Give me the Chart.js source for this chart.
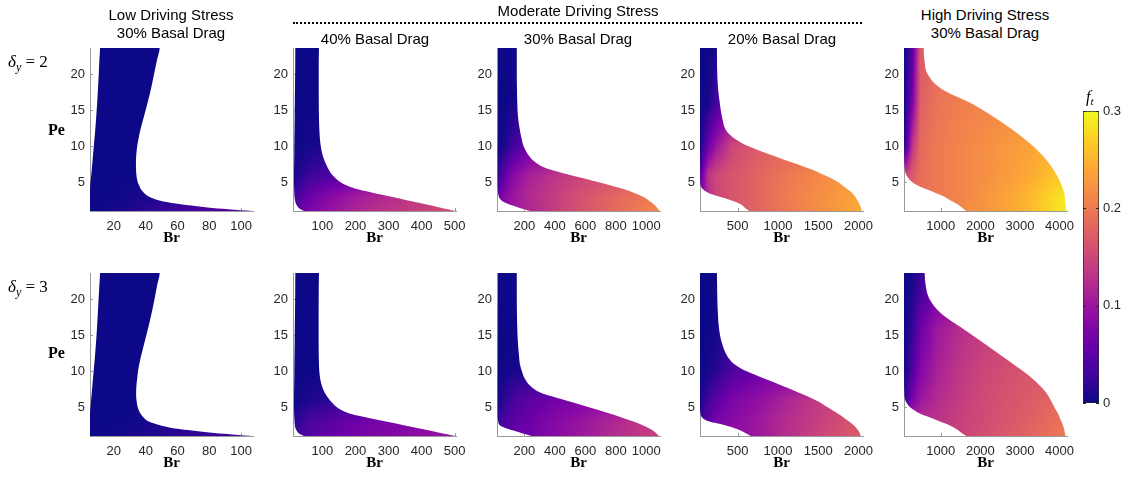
<!DOCTYPE html>
<html>
<head>
<meta charset="utf-8">
<script src="https://cdn.jsdelivr.net/npm/chart.js@4.4.1/dist/chart.umd.min.js"></script>
<style>
  body { margin: 0; background: #fff; }
  #fig { position: relative; width: 1129px; height: 477px; overflow: hidden; font-family: "Liberation Sans", Arial, sans-serif; }
  #fig canvas { position: absolute; }
  .ttl { position: absolute; z-index: 2; font-size: 15px; line-height: 18px; color: #000; text-align: center; white-space: nowrap; transform: translateX(-50%); }
  .math { position: absolute; z-index: 2; font-family: "Liberation Serif", serif; color: #000; white-space: nowrap; }
</style>
</head>
<body>
<div id="fig">
  <div class="ttl" style="left:171px; top:6px">Low Driving Stress<br>30% Basal Drag</div>
  <div class="ttl" style="left:578px; top:2px">Moderate Driving Stress</div>
  <div style="position:absolute; left:293px; top:22px; width:569px; border-top:2px dotted #000"></div>
  <div class="ttl" style="left:375px; top:30px">40% Basal Drag</div>
  <div class="ttl" style="left:578px; top:30px">30% Basal Drag</div>
  <div class="ttl" style="left:782px; top:30px">20% Basal Drag</div>
  <div class="ttl" style="left:985px; top:6px">High Driving Stress<br>30% Basal Drag</div>

  <div class="math" style="left:8px; top:52px; font-size:17px; line-height:20px"><i>δ</i><span style="font-size:12px; vertical-align:-4px"><i>y</i></span> = 2</div>
  <div class="math" style="left:8px; top:277px; font-size:17px; line-height:20px"><i>δ</i><span style="font-size:12px; vertical-align:-4px"><i>y</i></span> = 3</div>
  <div class="math" style="left:48px; top:121px; font-size:16px; line-height:18px; font-weight:bold">Pe</div>
  <div class="math" style="left:48px; top:344px; font-size:16px; line-height:18px; font-weight:bold">Pe</div>
  <div class="math" style="left:1086px; top:88px; font-size:16px; line-height:18px"><i>f</i><span style="font-size:11px; vertical-align:-3px"><i>t</i></span></div>
</div>
<script>
// Pe samples shared by every boundary curve
const pe = [1, 1.25, 1.5, 2, 2.5, 3, 3.5, 4, 4.5, 5, 6, 7, 8, 9, 10, 11, 12, 14, 16, 18, 20, 22, 23.6];
const peLim = [1, 23.6];
const peTicks = [5, 10, 15, 20];

// Br range and ticks per column
const brLim = [[5, 107.5], [11, 504], [20, 1090], [33, 2055], [70, 4190]];
const brTicks = [
  [20, 40, 60, 80, 100],
  [100, 200, 300, 400, 500],
  [200, 400, 600, 800, 1000],
  [500, 1000, 1500, 2000],
  [1000, 2000, 3000, 4000]
];

// left / right edge of each region (Br at each Pe), delta_y = 2 and 3
const lowLeftD2 = [5, 5, 5, 5, 5, 5, 5, 5, 5.1, 5.3, 5.8, 6.2, 6.6, 7.0, 7.4, 7.8, 8.2, 8.9, 9.5, 10, 10.5, 10.9, 11.3];
const lowRightD2 = [107, 92, 79, 60, 48, 42, 39, 37, 36, 35, 34.2, 33.9, 33.9, 34.2, 34.7, 35.5, 36.4, 38.8, 41.2, 43.4, 45.3, 47.2, 48.8];
const lowLeftD3 = [5, 5, 5, 5, 5, 5, 5, 5, 5.1, 5.3, 5.7, 6.1, 6.5, 6.9, 7.3, 7.7, 8.1, 8.8, 9.4, 9.9, 10.4, 10.9, 11.3];
const lowRightD3 = [107, 93, 80, 60, 49, 42, 39, 37, 35.8, 35, 34.2, 34, 34.2, 34.7, 35.2, 36, 37, 39.3, 41.6, 43.7, 45.6, 47.3, 48.8];

const mid40LeftD2 = [45, 34, 27, 20, 17, 15.5, 15, 14.5, 14.2, 14, 14, 14.2, 14.5, 14.8, 15, 15.2, 15.5, 16, 16.5, 17, 17.5, 17.8, 18];
const mid40RightD2 = [503, 480, 455, 405, 355, 305, 255, 207, 176, 155, 130, 116, 106, 99, 95, 92.5, 91, 89.5, 89, 88.8, 88.8, 89, 89.5];
const mid40LeftD3 = [45, 33, 26, 19, 16.5, 15.5, 15, 14.5, 14.2, 14, 14, 14.2, 14.5, 14.8, 15, 15.2, 15.5, 16, 16.5, 17, 17.5, 17.8, 18];
const mid40RightD3 = [503, 478, 451, 398, 346, 292, 240, 190, 162, 144, 122, 107, 98, 93, 90.5, 89.5, 89, 88.5, 88.5, 88.5, 88.7, 89, 89.5];

const mid30LeftD2 = [238, 200, 160, 90, 48, 32, 27, 25, 24, 24, 24, 24, 24, 24, 24.5, 24.5, 25, 25, 25.5, 25.5, 26, 26, 26];
const mid30RightD2 = [1087, 1080, 1070, 1045, 1014, 975, 921, 855, 774, 689, 499, 335, 258, 218, 194, 182, 172, 158, 153, 151, 150, 150, 150];
const mid30LeftD3 = [248, 210, 170, 90, 38, 28, 25, 24, 24, 24, 24, 24, 24, 24, 24.5, 24.5, 25, 25, 25.5, 25.5, 26, 26, 26];
const mid30RightD3 = [1083, 1072, 1060, 1024, 976, 915, 847, 775, 701, 624, 462, 307, 236, 201, 183, 170, 165, 157, 153, 151, 150, 150, 150];

const mid20LeftD2 = [645, 615, 586, 528, 416, 268, 139, 70, 42, 35, 33, 33, 33, 33, 33, 33, 33, 33, 33, 33, 33, 33, 33];
const mid20RightD2 = [2040, 2035, 2028, 2008, 1985, 1955, 1920, 1863, 1807, 1751, 1573, 1361, 1103, 856, 628, 470, 368, 307, 278, 257, 247, 244, 243];
const mid20LeftD3 = [665, 625, 585, 485, 345, 150, 65, 40, 34, 33, 33, 33, 33, 33, 33, 33, 33, 33, 33, 33, 33, 33, 33];
const mid20RightD3 = [2027, 2020, 2012, 1979, 1941, 1881, 1822, 1756, 1687, 1617, 1464, 1260, 1045, 822, 605, 456, 376, 302, 268, 255, 248, 245, 243];

const highLeftD2 = [1645, 1590, 1530, 1400, 1235, 1075, 870, 640, 430, 280, 130, 85, 75, 72, 72, 71, 71, 70, 70, 70, 70, 70, 70];
const highRightD2 = [4170, 4168, 4165, 4155, 4145, 4135, 4120, 4090, 4057, 4020, 3930, 3815, 3680, 3515, 3330, 3115, 2880, 2350, 1740, 1000, 665, 585, 567];
const highLeftD3 = [1645, 1580, 1510, 1380, 1220, 980, 760, 510, 350, 225, 100, 78, 72, 72, 71, 71, 70, 70, 70, 70, 70, 70, 70];
const highRightD3 = [4153, 4143, 4134, 4115, 4087, 4048, 4009, 3971, 3922, 3870, 3775, 3665, 3500, 3305, 3075, 2825, 2570, 2054, 1526, 1007, 713, 615, 593];

// f_t: rows at shadePe, columns at shadeBr of that column
const shadePe = [1, 3, 6, 10, 16, 23.6];
const shadeBr = [
  [5, 10, 15, 25, 41, 56, 82, 107],
  [11, 36, 60, 110, 183, 257, 380, 503],
  [20, 75, 127, 234, 395, 555, 820, 1090],
  [33, 134, 235, 437, 740, 1044, 1550, 2055],
  [70, 276, 482, 894, 1512, 2130, 3160, 4190]
];
const lowShadeD2 = [
  [0, 0, 0.003, 0.008, 0.018, 0.028, 0.04, 0.05],
  [0, 0, 0, 0.002, 0.008, 0.015, 0.02, 0.02],
  [0, 0, 0, 0, 0, 0, 0, 0],
  [0, 0, 0, 0, 0, 0, 0, 0],
  [0, 0, 0, 0, 0, 0, 0, 0],
  [0, 0, 0, 0, 0, 0, 0, 0]
];
const lowShadeD3 = [
  [0, 0, 0.002, 0.005, 0.01, 0.018, 0.026, 0.032],
  [0, 0, 0, 0, 0.004, 0.008, 0.01, 0.01],
  [0, 0, 0, 0, 0, 0, 0, 0],
  [0, 0, 0, 0, 0, 0, 0, 0],
  [0, 0, 0, 0, 0, 0, 0, 0],
  [0, 0, 0, 0, 0, 0, 0, 0]
];
const mid40ShadeD2 = [
  [0.035, 0.06, 0.075, 0.09, 0.11, 0.125, 0.14, 0.16],
  [0.02, 0.045, 0.06, 0.08, 0.1, 0.115, 0.135, 0.15],
  [0.005, 0.015, 0.025, 0.035, 0.05, 0.06, 0.07, 0.08],
  [0, 0.002, 0.005, 0.01, 0.015, 0.015, 0.015, 0.015],
  [0, 0, 0, 0, 0, 0, 0, 0],
  [0, 0, 0, 0, 0, 0, 0, 0]
];
const mid40ShadeD3 = [
  [0.02, 0.035, 0.045, 0.055, 0.065, 0.075, 0.088, 0.1],
  [0.01, 0.025, 0.035, 0.045, 0.058, 0.068, 0.08, 0.09],
  [0, 0.005, 0.01, 0.015, 0.02, 0.025, 0.03, 0.035],
  [0, 0, 0, 0, 0, 0, 0, 0],
  [0, 0, 0, 0, 0, 0, 0, 0],
  [0, 0, 0, 0, 0, 0, 0, 0]
];
const mid30ShadeD2 = [
  [0.05, 0.08, 0.1, 0.115, 0.14, 0.16, 0.19, 0.215],
  [0.05, 0.085, 0.1, 0.12, 0.14, 0.16, 0.185, 0.205],
  [0.015, 0.055, 0.085, 0.11, 0.13, 0.145, 0.16, 0.175],
  [0, 0.01, 0.03, 0.06, 0.08, 0.09, 0.1, 0.1],
  [0, 0, 0.005, 0.01, 0.01, 0.01, 0.01, 0.01],
  [0, 0, 0, 0, 0, 0, 0, 0]
];
const mid30ShadeD3 = [
  [0.03, 0.045, 0.055, 0.065, 0.085, 0.1, 0.125, 0.145],
  [0.02, 0.04, 0.05, 0.062, 0.08, 0.095, 0.12, 0.14],
  [0.005, 0.02, 0.035, 0.05, 0.065, 0.075, 0.09, 0.1],
  [0, 0.002, 0.005, 0.01, 0.015, 0.02, 0.02, 0.02],
  [0, 0, 0, 0, 0, 0, 0, 0],
  [0, 0, 0, 0, 0, 0, 0, 0]
];
const mid20ShadeD2 = [
  [0.1, 0.13, 0.15, 0.165, 0.18, 0.195, 0.22, 0.245],
  [0.08, 0.12, 0.15, 0.165, 0.18, 0.2, 0.22, 0.24],
  [0.04, 0.13, 0.15, 0.165, 0.18, 0.195, 0.215, 0.23],
  [0, 0.06, 0.1, 0.15, 0.17, 0.18, 0.19, 0.2],
  [0, 0.005, 0.035, 0.06, 0.08, 0.08, 0.08, 0.08],
  [0, 0, 0.005, 0.01, 0.01, 0.01, 0.01, 0.01]
];
const mid20ShadeD3 = [
  [0.05, 0.065, 0.08, 0.09, 0.1, 0.12, 0.15, 0.175],
  [0.03, 0.05, 0.07, 0.085, 0.1, 0.12, 0.145, 0.17],
  [0.005, 0.03, 0.05, 0.075, 0.09, 0.11, 0.14, 0.16],
  [0, 0.005, 0.015, 0.04, 0.06, 0.07, 0.08, 0.08],
  [0, 0, 0.005, 0.01, 0.01, 0.01, 0.01, 0.01],
  [0, 0, 0, 0, 0, 0, 0, 0]
];
const highShadeD2 = [
  [0.17, 0.18, 0.19, 0.2, 0.215, 0.225, 0.25, 0.295],
  [0.16, 0.18, 0.19, 0.2, 0.21, 0.225, 0.25, 0.29],
  [0.14, 0.17, 0.19, 0.2, 0.21, 0.22, 0.24, 0.27],
  [0, 0.13, 0.185, 0.2, 0.21, 0.22, 0.235, 0.25],
  [0, 0.07, 0.175, 0.195, 0.205, 0.21, 0.22, 0.23],
  [0, 0.04, 0.17, 0.185, 0.2, 0.2, 0.2, 0.2]
];
const highShadeD3 = [
  [0.13, 0.135, 0.14, 0.14, 0.145, 0.16, 0.18, 0.2],
  [0.11, 0.12, 0.125, 0.13, 0.145, 0.155, 0.175, 0.195],
  [0.02, 0.07, 0.1, 0.12, 0.14, 0.155, 0.17, 0.185],
  [0, 0.04, 0.08, 0.11, 0.135, 0.15, 0.165, 0.175],
  [0, 0.02, 0.06, 0.1, 0.125, 0.14, 0.15, 0.15],
  [0, 0.005, 0.02, 0.05, 0.05, 0.05, 0.05, 0.05]
];

// colorbar
const ftRange = [0, 0.3];
const ftTicks = [0, 0.1, 0.2, 0.3];

const panels = [
  { col: 0, row: 0, left: lowLeftD2, right: lowRightD2, shade: lowShadeD2 },
  { col: 1, row: 0, left: mid40LeftD2, right: mid40RightD2, shade: mid40ShadeD2 },
  { col: 2, row: 0, left: mid30LeftD2, right: mid30RightD2, shade: mid30ShadeD2 },
  { col: 3, row: 0, left: mid20LeftD2, right: mid20RightD2, shade: mid20ShadeD2 },
  { col: 4, row: 0, left: highLeftD2, right: highRightD2, shade: highShadeD2 },
  { col: 0, row: 1, left: lowLeftD3, right: lowRightD3, shade: lowShadeD3 },
  { col: 1, row: 1, left: mid40LeftD3, right: mid40RightD3, shade: mid40ShadeD3 },
  { col: 2, row: 1, left: mid30LeftD3, right: mid30RightD3, shade: mid30ShadeD3 },
  { col: 3, row: 1, left: mid20LeftD3, right: mid20RightD3, shade: mid20ShadeD3 },
  { col: 4, row: 1, left: highLeftD3, right: highRightD3, shade: highShadeD3 }
];

const plasmaHex = ['#0d0887', '#41049d', '#6a00a8', '#8f0da4', '#b12a90', '#cc4778',
                   '#e16462', '#f2844b', '#fca636', '#fcce25', '#f0f921'];
function hexRgb(h) {
  return [parseInt(h.slice(1, 3), 16), parseInt(h.slice(3, 5), 16), parseInt(h.slice(5, 7), 16)];
}
function plasmaRgb(t) {
  t = Math.max(0, Math.min(1, t));
  const q = t * 10;
  const i = Math.min(9, Math.floor(q));
  const f = q - i;
  const a = hexRgb(plasmaHex[i]), b = hexRgb(plasmaHex[i + 1]);
  return a.map((v, k) => Math.round(v + (b[k] - v) * f));
}
const ftRgb = ft => plasmaRgb((ft - ftRange[0]) / (ftRange[1] - ftRange[0]));
const ftColor = ft => 'rgb(' + ftRgb(ft).join(',') + ')';

function bracket(arr, v) {
  if (v <= arr[0]) return [0, 0];
  for (let i = 0; i < arr.length - 1; i++) {
    if (v <= arr[i + 1]) return [i, (v - arr[i]) / (arr[i + 1] - arr[i])];
  }
  return [arr.length - 2, 1];
}
function ftAt(grid, brs, br, peV) {
  const [i, fi] = bracket(shadePe, peV);
  const [j, fj] = bracket(brs, br);
  const a = grid[i][j] + (grid[i][j + 1] - grid[i][j]) * fj;
  const b = grid[i + 1][j] + (grid[i + 1][j + 1] - grid[i + 1][j]) * fj;
  return a + (b - a) * fi;
}

// paint f_t over the plot area once, then use it as the fill pattern
function fieldPattern(chart, p) {
  if (p.pattern) return p.pattern;
  const a = chart.chartArea, xs = chart.scales.x, ys = chart.scales.y;
  const off = document.createElement('canvas');
  off.width = chart.width; off.height = chart.height;
  const octx = off.getContext('2d');
  const x0 = Math.floor(a.left), y0 = Math.floor(a.top);
  const w = Math.ceil(a.right) - x0, h = Math.ceil(a.bottom) - y0;
  const img = octx.createImageData(w, h);
  const brCol = [];
  for (let px = 0; px < w; px++) brCol.push(xs.getValueForPixel(x0 + px + 0.5));
  for (let py = 0; py < h; py++) {
    const peV = ys.getValueForPixel(y0 + py + 0.5);
    for (let px = 0; px < w; px++) {
      const c = ftRgb(ftAt(p.shade, shadeBr[p.col], brCol[px], peV));
      const k = (py * w + px) * 4;
      img.data[k] = c[0]; img.data[k + 1] = c[1]; img.data[k + 2] = c[2]; img.data[k + 3] = 255;
    }
  }
  octx.putImageData(img, x0, y0);
  p.pattern = chart.ctx.createPattern(off, 'no-repeat');
  return p.pattern;
}

const axisGray = '#9a9a9a';
const tickText = '#262626';
const colLeft = [90, 293, 497, 700, 904];
const rowTop = [48, 273];
const size = 163;

// small inward tick marks, under the data like MATLAB
const innerTicks = {
  id: 'innerTicks',
  beforeDatasetsDraw(chart) {
    const { ctx, chartArea: a, scales: { x, y } } = chart;
    ctx.save();
    ctx.strokeStyle = axisGray;
    ctx.lineWidth = 1;
    ctx.beginPath();
    x.ticks.forEach(t => {
      const px = Math.round(x.getPixelForValue(t.value)) + 0.5;
      ctx.moveTo(px, a.bottom); ctx.lineTo(px, a.bottom - 3);
    });
    y.ticks.forEach(t => {
      const py = Math.round(y.getPixelForValue(t.value)) + 0.5;
      ctx.moveTo(a.left, py); ctx.lineTo(a.left + 3, py);
    });
    ctx.stroke();
    ctx.restore();
  }
};

const fig = document.getElementById('fig');
function addCanvas(left, top, w, h) {
  const cv = document.createElement('canvas');
  cv.width = w; cv.height = h;
  cv.style.left = left + 'px'; cv.style.top = top + 'px';
  cv.style.width = w + 'px'; cv.style.height = h + 'px';
  fig.insertBefore(cv, fig.firstChild);
  return cv;
}
const noPad = s => { s.paddingTop = 0; s.paddingBottom = 0; s.paddingLeft = 0; s.paddingRight = 0; };

panels.forEach(p => {
  const cv = addCanvas(colLeft[p.col] - 40, rowTop[p.row] - 6, 40 + size + 12, 6 + size + 36);
  const pts = p.left.map((b, i) => ({ x: b, y: pe[i] }))
    .concat(p.right.map((b, i) => ({ x: b, y: pe[i] })).reverse());
  new Chart(cv, {
    type: 'scatter',
    data: {
      datasets: [{
        data: pts,
        indexAxis: 'y',
        showLine: true,
        fill: 'shape',
        cubicInterpolationMode: 'monotone',
        borderWidth: 0,
        pointRadius: 0,
        backgroundColor: c => (c.chart.chartArea ? fieldPattern(c.chart, p) : ftColor(0))
      }]
    },
    options: {
      indexAxis: 'y',
      responsive: false,
      animation: false,
      events: [],
      layout: { padding: { left: 0, top: 6, right: 12, bottom: 0 } },
      plugins: { legend: { display: false }, tooltip: { enabled: false } },
      scales: {
        x: {
          type: 'linear',
          min: brLim[p.col][0],
          max: brLim[p.col][1],
          afterBuildTicks: s => { s.ticks = brTicks[p.col].map(v => ({ value: v })); },
          afterFit: s => { s.height = 36; noPad(s); },
          grid: { display: false, drawTicks: false },
          border: { display: true, color: axisGray, width: 1 },
          ticks: {
            autoSkip: false, maxRotation: 0, padding: 8, color: tickText,
            font: { family: 'Liberation Sans', size: 13 },
            callback: v => String(v)
          },
          title: {
            display: true, text: 'Br', padding: 0, color: '#000',
            font: { family: 'Liberation Serif', size: 15, weight: 'bold' }
          }
        },
        y: {
          type: 'linear',
          min: peLim[0],
          max: peLim[1],
          afterBuildTicks: s => { s.ticks = peTicks.map(v => ({ value: v })); },
          afterFit: s => { s.width = 40; noPad(s); },
          grid: { display: false, drawTicks: false },
          border: { display: true, color: axisGray, width: 1 },
          ticks: {
            padding: 5, color: tickText,
            font: { family: 'Liberation Sans', size: 13 },
            callback: v => String(v)
          }
        }
      }
    },
    plugins: [innerTicks]
  });
});

// colour bar
const barTicks = {
  id: 'barTicks',
  afterDatasetsDraw(chart) {
    const { ctx, chartArea: a, scales: { y } } = chart;
    ctx.save();
    ctx.strokeStyle = tickText;
    ctx.lineWidth = 1;
    ctx.beginPath();
    y.ticks.forEach(t => {
      const py = Math.round(y.getPixelForValue(t.value)) + 0.5;
      ctx.moveTo(a.left, py); ctx.lineTo(a.left + 3, py);
      ctx.moveTo(a.right, py); ctx.lineTo(a.right - 3, py);
    });
    ctx.stroke();
    ctx.restore();
  }
};
const cb = addCanvas(1083, 103, 16 + 32, 292 + 16);
new Chart(cb, {
  type: 'bar',
  data: {
    labels: [''],
    datasets: [{
      data: [[ftRange[0], ftRange[1]]],
      categoryPercentage: 1,
      barPercentage: 1,
      borderWidth: 1,
      borderColor: tickText,
      borderSkipped: false,
      backgroundColor: c => {
        const a = c.chart.chartArea;
        if (!a) return ftColor(0);
        const g = c.chart.ctx.createLinearGradient(0, a.bottom, 0, a.top);
        plasmaHex.forEach((h, i) => g.addColorStop(i / (plasmaHex.length - 1), h));
        return g;
      }
    }]
  },
  options: {
    responsive: false,
    animation: false,
    events: [],
    layout: { padding: { left: 0, top: 8, right: 0, bottom: 8 } },
    plugins: { legend: { display: false }, tooltip: { enabled: false } },
    scales: {
      x: { display: false },
      y: {
        position: 'right',
        min: ftRange[0],
        max: ftRange[1],
        afterBuildTicks: s => { s.ticks = ftTicks.map(v => ({ value: v })); },
        afterFit: s => { s.width = 32; noPad(s); },
        grid: { display: false, drawTicks: false },
        border: { display: false },
        ticks: {
          padding: 4, color: tickText,
          font: { family: 'Liberation Sans', size: 13 },
          callback: v => (v === 0 ? '0' : v.toFixed(1))
        }
      }
    }
  },
  plugins: [barTicks]
});
</script>
</body>
</html>
